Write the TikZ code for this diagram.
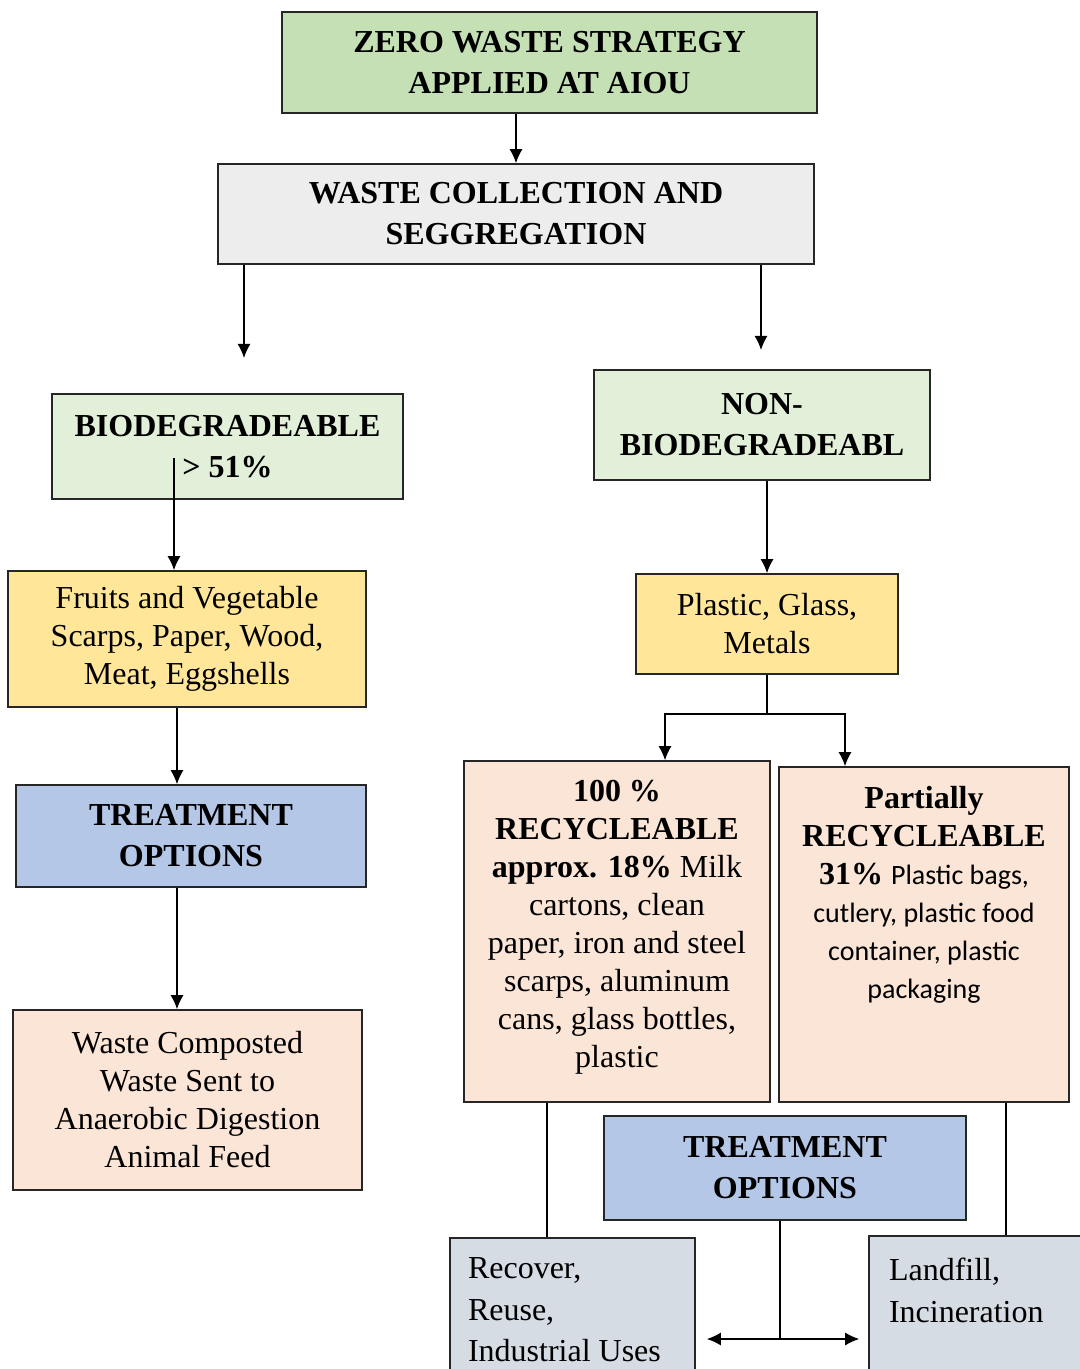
\documentclass[tikz,border=0pt]{standalone}
\usepackage{fontspec}
\setmainfont{Liberation Serif}
\newfontfamily\calib{Carlito}
\usetikzlibrary{arrows.meta,calc}

\definecolor{topgreen}{HTML}{C5E0B4}
\definecolor{collgrey}{HTML}{EDEDED}
\definecolor{palegreen}{HTML}{E2EFD9}
\definecolor{wasteyellow}{HTML}{FFE699}
\definecolor{treatblue}{HTML}{B4C7E7}
\definecolor{peach}{HTML}{FBE5D6}
\definecolor{slategrey}{HTML}{D6DCE4}

\tikzset{
  box/.style={draw=black!85, line width=0.8pt, align=center, inner sep=0pt},
  head/.style={font=\bfseries\fontsize{16}{20.5}\selectfont},
  body/.style={font=\fontsize{16}{19}\selectfont},
  link/.style={line width=0.7pt},
  tip/.tip={Latex[length=7pt,width=6.5pt]},
  arr/.style={link,-tip}
}

\begin{document}
\begin{tikzpicture}[x=0.5pt,y=-0.5pt]
\clip (0,0) rectangle (1080,1369);

\node[box,head,fill=topgreen,minimum width=267.5pt,minimum height=50.5pt] (top) at (549.5,62.5) {ZERO WASTE STRATEGY\\ APPLIED AT AIOU};
\node[box,head,fill=collgrey,minimum width=298pt,minimum height=50pt] (coll) at (516,214) {WASTE COLLECTION AND\\ SEGGREGATION};

\node[box,head,fill=palegreen,minimum width=175.5pt,minimum height=52.5pt] (bio) at (227.5,446.5) {BIODEGRADEABLE\\ \textgreater{} 51\%};
\node[box,head,fill=palegreen,minimum width=168pt,minimum height=55pt] (nonbio) at (762,425) {NON-\\ BIODEGRADEABL};

\node[box,body,fill=wasteyellow,minimum width=179pt,minimum height=68pt] (fruits) at (187,639) {Fruits and Vegetable\\ Scarps, Paper, Wood,\\ Meat, Eggshells};
\node[box,body,fill=wasteyellow,minimum width=131pt,minimum height=50pt] (metals) at (767,624) {Plastic, Glass,\\ Metals};

\node[box,head,fill=treatblue,minimum width=175pt,minimum height=51pt] (treatL) at (191,836) {TREATMENT\\ OPTIONS};
\node[box,body,fill=peach,minimum width=174.5pt,minimum height=90pt] (compost) at (187.5,1100) {Waste Composted\\ Waste Sent to\\ Anaerobic Digestion\\ Animal Feed};

\node[box,body,fill=peach,minimum width=153pt,minimum height=170.5pt] (full) at (617,931.5) {\parbox[c][151.5pt][t]{150pt}{\centering\textbf{100 \%}\\ \textbf{RECYCLEABLE}\\ \textbf{approx. 18\%} Milk\\ cartons, clean\\ paper, iron and steel\\ scarps, aluminum\\ cans, glass bottles,\\ plastic}};
\node[box,body,fill=peach,minimum width=145pt,minimum height=167.5pt] (partial) at (924,934.5) {\parbox[c][148.5pt][t]{140pt}{\centering\textbf{Partially}\\ \textbf{RECYCLEABLE}\\ \textbf{31\%} {\calib\fontsize{14}{19}\selectfont Plastic bags,\\ cutlery, plastic food\\ container, plastic\\ packaging}}};

\node[box,head,fill=treatblue,minimum width=181pt,minimum height=52pt] (treatR) at (785,1168) {TREATMENT\\ OPTIONS};
\node[box,fill=slategrey,minimum width=122.5pt,minimum height=91pt] (recover) at (572.5,1329) {\parbox[c][71pt][t]{104.5pt}{\raggedright\fontsize{16}{20.75}\selectfont Recover,\\ Reuse,\\ Industrial Uses}};
\node[box,fill=slategrey,minimum width=120.5pt,minimum height=92pt] (landfill) at (989.5,1328) {\parbox[c][70pt][t]{100.5pt}{\raggedright\fontsize{16}{20.75}\selectfont Landfill,\\ Incineration}};

\coordinate (bioin) at (244,358);
\coordinate (nonin) at (761,350);
\coordinate (biotail) at (174,458);
\coordinate (lx) at (177,0);
\coordinate (split) at (767,714);
\coordinate (fx) at (665,714);
\coordinate (px) at (845,714);
\coordinate (rx) at (547,0);
\coordinate (lfx) at (1006,0);
\coordinate (tx) at (780,1339);

\draw[arr] (top.south -| coll.north) -- (coll.north);
\draw[arr] (coll.south -| bioin) -- (bioin);
\draw[arr] (coll.south -| nonin) -- (nonin);
\draw[arr] (biotail) -- (biotail |- fruits.north);
\draw[arr] (metals.north |- nonbio.south) -- (metals.north);
\draw[arr] (fruits.south -| lx) -- (treatL.north -| lx);
\draw[arr] (treatL.south -| lx) -- (compost.north -| lx);

\draw[link] (metals.south) -- (split);
\draw[arr] (split) -- (fx) -- (fx |- full.north);
\draw[arr] (split) -- (px) -- (px |- partial.north);

\draw[link] (full.south -| rx) -- (recover.north -| rx);
\draw[link] (partial.south -| lfx) -- (landfill.north -| lfx);
\draw[link] (treatR.south -| tx) -- (tx);
\draw[link,tip-tip,shorten <=5.5pt,shorten >=4.5pt] (recover.east |- tx) -- (landfill.west |- tx);

\end{tikzpicture}
\end{document}
